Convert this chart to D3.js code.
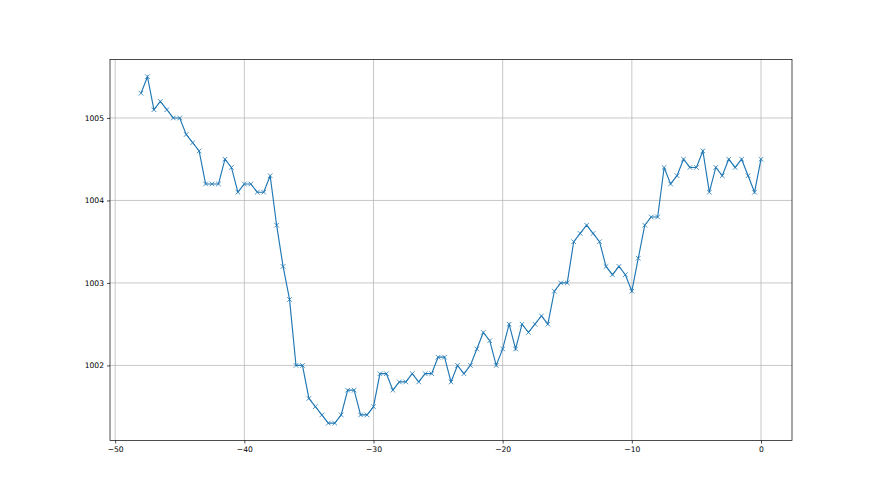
<!DOCTYPE html>
<html><head><meta charset="utf-8">
<script src="https://cdn.jsdelivr.net/npm/d3@7"></script>
<style>body{margin:0;background:#fff}svg{display:block}text{font-family:"DejaVu Sans",sans-serif}</style>
</head><body><svg id="c" width="880" height="495"></svg>
<script>
const xStart = -48, xStep = 0.5;
const values = [1005.3,1005.5,1005.1,1005.2,1005.1,1005.0,1005.0,1004.8,1004.7,1004.6,
1004.2,1004.2,1004.2,1004.5,1004.4,1004.1,1004.2,1004.2,1004.1,1004.1,
1004.3,1003.7,1003.2,1002.8,1002.0,1002.0,1001.6,1001.5,1001.4,1001.3,
1001.3,1001.4,1001.7,1001.7,1001.4,1001.4,1001.5,1001.9,1001.9,1001.7,
1001.8,1001.8,1001.9,1001.8,1001.9,1001.9,1002.1,1002.1,1001.8,1002.0,
1001.9,1002.0,1002.2,1002.4,1002.3,1002.0,1002.2,1002.5,1002.2,1002.5,
1002.4,1002.5,1002.6,1002.5,1002.9,1003.0,1003.0,1003.5,1003.6,1003.7,
1003.6,1003.5,1003.2,1003.1,1003.2,1003.1,1002.9,1003.3,1003.7,1003.8,
1003.8,1004.4,1004.2,1004.3,1004.5,1004.4,1004.4,1004.6,1004.1,1004.4,
1004.3,1004.5,1004.4,1004.5,1004.3,1004.1,1004.5];
const xTicks = [-50,-40,-30,-20,-10,0];
const yTicks = [1002,1003,1004,1005];

const data = values.map((v,i)=>({x:xStart+i*xStep,y:v}));
const svg = d3.select("#c");
const L=110, R=792, T=59.4, B=440.5;
const xmin=d3.min(data,d=>d.x), xmax=d3.max(data,d=>d.x);
const ymin=d3.min(values), ymax=d3.max(values);
const xm=(xmax-xmin)*0.05, ym=(ymax-ymin)*0.05;
const x=d3.scaleLinear().domain([xmin-xm,xmax+xm]).range([L,R]);
const y=d3.scaleLinear().domain([ymin-ym,ymax+ym]).range([B,T]);

// grid
const g=svg.append("g");
g.selectAll(".gx").data(xTicks).enter().append("line")
 .attr("x1",d=>x(d)).attr("x2",d=>x(d)).attr("y1",T).attr("y2",B)
 .attr("stroke","#b0b0b0").attr("stroke-width",0.7);
g.selectAll(".gy").data(yTicks).enter().append("line")
 .attr("y1",d=>y(d)).attr("y2",d=>y(d)).attr("x1",L).attr("x2",R)
 .attr("stroke","#b0b0b0").attr("stroke-width",0.7);

// axes
const xa=svg.append("g").attr("transform",`translate(0,${B})`)
 .call(d3.axisBottom(x).tickValues(xTicks).tickSize(3).tickPadding(3).tickFormat(d=>d<0?"\u2212"+(-d):d));
const ya=svg.append("g").attr("transform",`translate(${L},0)`)
 .call(d3.axisLeft(y).tickValues(yTicks).tickSize(3).tickPadding(3).tickFormat(d3.format("d")));
[xa,ya].forEach(a=>{a.select(".domain").remove();a.selectAll("text").attr("font-size","7.6px").attr("fill","#000");a.selectAll("line").attr("stroke","#000").attr("stroke-width",0.7);});

// line
svg.append("path").datum(data)
 .attr("d",d3.line().x(d=>x(d.x)).y(d=>y(d.y)))
 .attr("fill","none").attr("stroke","#1f77b4").attr("stroke-width",1.15);
const s=2.3;
svg.append("g").selectAll("path").data(data).enter().append("path")
 .attr("d",d=>`M${x(d.x)-s},${y(d.y)-s}L${x(d.x)+s},${y(d.y)+s}M${x(d.x)-s},${y(d.y)+s}L${x(d.x)+s},${y(d.y)-s}`)
 .attr("stroke","#1f77b4").attr("stroke-width",0.8).attr("fill","none");

// frame
svg.append("rect").attr("x",L).attr("y",T).attr("width",R-L).attr("height",B-T)
 .attr("fill","none").attr("stroke","#000").attr("stroke-width",0.7);
</script></body></html>
